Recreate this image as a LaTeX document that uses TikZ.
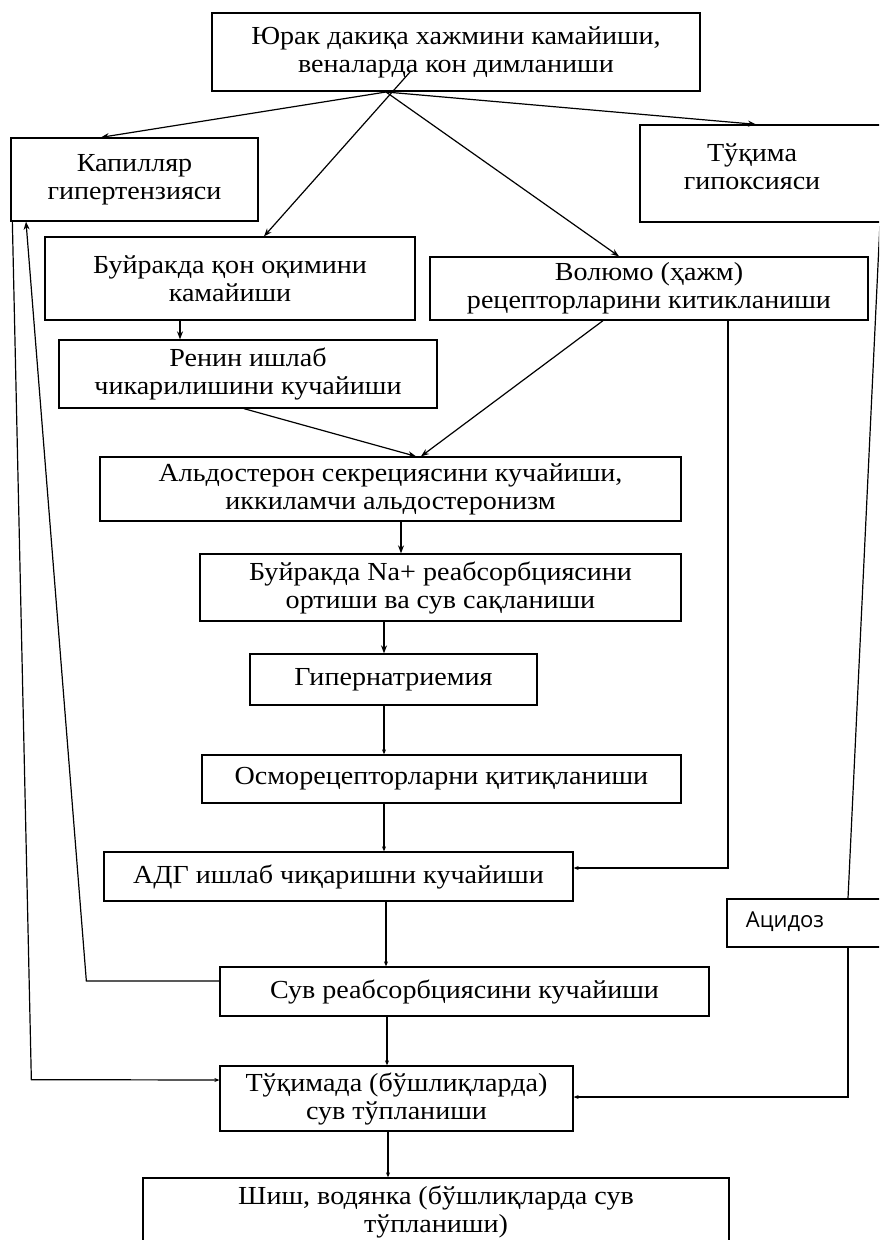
\documentclass[tikz,border=0pt]{standalone}
\usepackage{fontspec}
\setmainfont{Liberation Serif}[FakeStretch=1.08]
\newfontfamily\acidfont{Open Sans}
\usetikzlibrary{arrows.meta}
\tikzset{
  box/.style={draw, line width=1.3pt, inner sep=0pt, align=center,
    font=\fontsize{26}{28}\selectfont},
  label text/.style={inner sep=0pt, align=center, font=\fontsize{26}{28}\selectfont},
  link/.style={line width=1.2pt},
  bigarrow/.style={link, -{Stealth[length=8pt,width=6pt]}},
  tinyarrow/.style={link, -{Stealth[length=5pt,width=4pt]}},
}
\begin{document}
\begin{tikzpicture}[x=1pt, y=-1pt]
\useasboundingbox (0,0) rectangle (879,1240);
\clip (0,0) rectangle (879,1240);
\fill[white] (0,0) rectangle (879,1240);

% boxes
\node[box, minimum width=488pt, minimum height=78pt] (top) at (456,52)
  {Юрак дакиқа хажмини камайиши,\\веналарда кон димланиши};
\node[box, minimum width=247pt, minimum height=83pt] (kap) at (134.5,179.5)
  {Капилляр\\гипертензияси};
\node[box, minimum width=250pt, minimum height=97pt] (tuk) at (765,173.5) {};
\node[label text] (tukt) at (752,167) {Тўқима\\гипоксияси};
\node[box, minimum width=370pt, minimum height=83pt] (buy) at (230,278.5)
  {Буйракда қон оқимини\\камайиши};
\node[box, minimum width=438pt, minimum height=63pt] (vol) at (649,288.5)
  {Волюмо (ҳажм)\\рецепторларини китикланиши};
\node[box, minimum width=378pt, minimum height=68pt] (ren) at (248,374)
  {Ренин ишлаб\\чикарилишини кучайиши};
\node[box, minimum width=581pt, minimum height=64pt] (ald) at (390.5,489)
  {Альдостерон секрециясини кучайиши,\\иккиламчи альдостеронизм};
\node[box, minimum width=481pt, minimum height=67pt] (na) at (440.5,587.5)
  {Буйракда Na+ реабсорбциясини\\ортиши ва сув сақланиши};
\node[box, minimum width=287pt, minimum height=51pt] (hyp) at (393.5,679.5)
  {Гипернатриемия};
\node[box, minimum width=479pt, minimum height=48pt] (osm) at (441.5,779)
  {Осморецепторларни қитиқланиши};
\node[box, minimum width=469pt, minimum height=49pt] (adg) at (338.5,876.5)
  {АДГ ишлаб чиқаришни кучайиши};
\node[box, minimum width=163pt, minimum height=48pt] (acid) at (808.5,923) {};
\node[inner sep=0pt, font=\acidfont\fontsize{22}{26}\selectfont] (acidt) at (785,922) {Ацидоз};
\node[box, minimum width=489pt, minimum height=49pt] (suv) at (464.5,991.5)
  {Сув реабсорбциясини кучайиши};
\node[box, minimum width=353pt, minimum height=65pt] (tuq) at (396.5,1098.5)
  {Тўқимада (бўшлиқларда)\\сув тўпланиши};
\node[box, minimum width=586pt, minimum height=90pt] (shish) at (436,1223) {};
\node[label text] (shisht) at (436,1212) {Шиш, водянка (бўшлиқларда сув\\тўпланиши)};

% fan of arrows leaving the top box
\coordinate (o) at (386,92);
\coordinate (ob) at (410,72);
\draw[bigarrow] (o) -- ([xshift=-33.5pt]kap.north);
\draw[bigarrow] (o) -- ([xshift=-9pt]tuk.north);
\draw[bigarrow] (ob) -- ([xshift=34pt]buy.north);
\draw[bigarrow] (o) -- ([xshift=-30pt]vol.north);

% renal branch
\draw[bigarrow] ([xshift=-50pt]buy.south) -- ([xshift=-50pt]buy.south |- ren.north);
\draw[bigarrow] ([xshift=-4pt]ren.south) -- ([xshift=25.5pt]ald.north);
\draw[bigarrow] ([xshift=-46pt]vol.south) -- ([xshift=30.5pt]ald.north);
\draw[tinyarrow] ([xshift=79pt]vol.south) |- ([yshift=8.5pt]adg.east);

% main vertical chain
\draw[bigarrow] ([xshift=10.5pt]ald.south) -- ([xshift=10.5pt]ald.south |- na.north);
\draw[bigarrow] ([xshift=-56.5pt]na.south) -- ([xshift=-56.5pt]na.south |- hyp.north);
\draw[tinyarrow] ([xshift=-9.5pt]hyp.south) -- ([xshift=-9.5pt]hyp.south |- osm.north);
\draw[tinyarrow] ([xshift=-57.5pt]osm.south) -- ([xshift=-57.5pt]osm.south |- adg.north);
\draw[tinyarrow] ([xshift=47.5pt]adg.south) -- ([xshift=47.5pt]adg.south |- suv.north);
\draw[tinyarrow] ([xshift=-77.5pt]suv.south) -- ([xshift=-77.5pt]suv.south |- tuq.north);
\draw[tinyarrow] ([xshift=-8.5pt]tuq.south) -- ([xshift=-8.5pt]tuq.south |- shish.north);

% feedback loops on the left
\draw[bigarrow] ([yshift=10.5pt]suv.west) -- ++(-133,0) -- ([xshift=-108.5pt]kap.south);
\draw[tinyarrow] ([xshift=2pt]kap.south west) -- ++(19,858) -- ([yshift=18.5pt]tuq.west);

% hypoxia -> acidosis -> oedema on the right
\draw[link] ([xshift=115pt]tuk.south) -- ([xshift=39.5pt]acid.north);
\draw[tinyarrow] ([xshift=39.5pt]acid.south) |- ([yshift=1.5pt]tuq.east);
\end{tikzpicture}
\end{document}
